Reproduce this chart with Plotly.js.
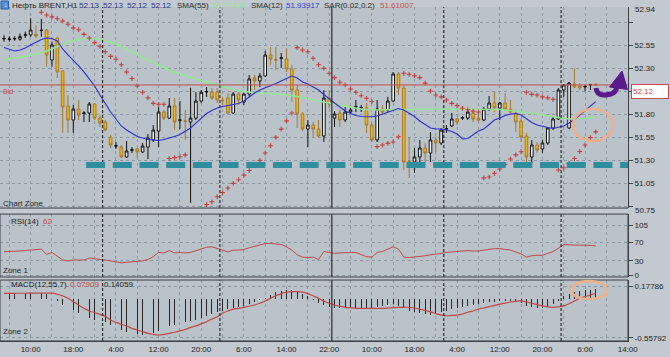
<!DOCTYPE html>
<html><head><meta charset="utf-8">
<script src="https://cdn.plot.ly/plotly-3.0.1.min.js"></script>
<style>html,body{margin:0;padding:0;background:#c2c9d0;}#chart{width:670px;height:357px;}</style>
</head><body><div id="chart"></div>
<script>
// ---- Data (BRENT H1) ----
const openP = [52.620,52.615,52.620,52.617,52.660,52.663,52.670,52.710,52.717,52.391,
52.630,52.271,51.891,51.739,51.858,51.810,51.815,51.913,51.760,51.717,
51.554,51.456,51.445,51.337,51.410,51.424,51.391,51.445,51.522,51.619,
51.826,51.760,51.891,51.735,51.730,51.717,51.760,51.945,52.043,52.043,
52.043,51.955,51.978,51.815,52.021,51.935,52.021,52.195,52.163,52.217,
52.445,52.395,52.410,52.402,52.293,52.065,51.804,51.641,51.684,51.641,
51.565,51.978,51.760,51.815,51.739,51.826,51.880,51.870,51.869,51.684,
51.522,51.858,51.848,51.945,52.239,52.087,51.290,51.282,51.337,51.435,
51.380,51.522,51.489,51.640,51.674,51.750,51.760,51.760,51.815,51.760,
51.739,51.858,51.924,51.869,51.924,51.858,51.815,51.728,51.565,51.337,
51.467,51.424,51.489,51.652,51.750,52.065,51.652,52.130,52.108,52.098,
52.120,52.130];
const highP = [52.660,52.650,52.650,52.680,52.700,52.844,52.770,52.837,52.728,52.590,
52.640,52.280,52.010,51.902,51.956,51.837,51.935,51.920,51.793,51.739,
51.576,51.500,51.467,51.511,51.445,51.435,51.489,51.587,51.684,51.880,
51.848,51.978,51.978,51.945,51.848,52.090,52.043,52.065,52.098,52.087,
52.087,51.990,52.030,52.043,52.043,52.030,52.228,52.228,52.250,52.489,
52.532,52.532,52.467,52.520,52.337,52.120,51.826,51.739,51.717,51.739,
52.065,52.065,51.837,51.848,51.880,51.880,51.956,51.902,51.924,51.706,
51.956,51.902,51.990,52.260,52.260,52.120,51.554,51.435,51.522,51.489,
51.608,51.554,51.652,51.684,51.815,51.760,51.782,51.848,51.837,51.826,
51.880,52.000,52.043,51.935,52.030,51.956,51.848,51.760,51.598,51.522,
51.500,51.522,51.663,51.771,52.087,52.130,52.152,52.304,52.141,52.120,
52.130,52.130];
const lowP = [52.590,52.590,52.600,52.600,52.630,52.644,52.630,52.644,52.318,52.318,
52.195,51.598,51.598,51.598,51.739,51.717,51.717,51.739,51.663,51.619,
51.435,51.424,51.326,51.326,51.380,51.326,51.380,51.315,51.500,51.445,
51.739,51.750,51.630,51.641,51.522,50.840,51.739,51.924,51.990,51.956,
51.924,51.902,51.800,51.804,51.902,51.902,51.990,52.065,52.098,52.206,
52.337,52.282,52.304,52.260,51.935,51.652,51.619,51.445,51.554,51.543,
51.500,51.869,51.663,51.663,51.717,51.815,51.826,51.826,51.598,51.500,
51.500,51.793,51.826,51.935,52.010,51.195,51.108,51.163,51.282,51.282,
51.282,51.391,51.467,51.598,51.663,51.684,51.739,51.739,51.717,51.717,
51.728,51.837,51.826,51.739,51.837,51.815,51.608,51.500,51.217,51.271,
51.380,51.380,51.467,51.630,51.739,51.990,51.641,52.087,52.065,52.054,
52.065,52.120];
const closeP = [52.625,52.620,52.625,52.645,52.665,52.717,52.652,52.715,52.445,52.554,
52.260,51.880,51.739,51.858,51.793,51.815,51.913,51.760,51.706,51.630,
51.467,51.460,51.337,51.402,51.415,51.391,51.456,51.543,51.630,51.826,
51.760,51.891,51.717,51.740,51.725,51.760,51.945,52.040,52.048,51.978,
51.956,51.950,51.815,52.021,51.956,52.021,52.185,52.163,52.217,52.445,
52.402,52.390,52.415,52.293,52.065,51.804,51.641,51.684,51.641,51.565,
51.978,51.913,51.804,51.739,51.826,51.848,51.885,51.875,51.684,51.522,
51.858,51.826,51.945,52.239,52.087,51.282,51.285,51.337,51.435,51.380,
51.522,51.489,51.630,51.645,51.750,51.717,51.765,51.826,51.750,51.739,
51.858,51.924,51.869,51.924,51.858,51.826,51.717,51.554,51.337,51.467,
51.413,51.489,51.652,51.750,52.065,52.120,52.141,52.098,52.087,52.103,
52.125,52.120];
const sma55 = [52.400,52.405,52.410,52.418,52.428,52.440,52.455,52.470,52.489,52.511,
52.537,52.560,52.587,52.603,52.614,52.619,52.625,52.625,52.614,52.603,
52.587,52.565,52.543,52.511,52.478,52.446,52.418,52.391,52.364,52.337,
52.304,52.282,52.261,52.239,52.217,52.201,52.185,52.168,52.152,52.136,
52.120,52.103,52.087,52.071,52.060,52.049,52.043,52.038,52.032,52.029,
52.027,52.022,52.016,52.011,52.005,51.994,51.984,51.967,51.956,51.945,
51.934,51.924,51.907,51.897,51.886,51.875,51.864,51.858,51.853,51.848,
51.848,51.851,51.853,51.855,51.855,51.855,51.855,51.855,51.858,51.858,
51.858,51.858,51.858,51.858,51.858,51.858,51.858,51.858,51.858,51.858,
51.858,51.858,51.858,51.853,51.848,51.842,51.837,51.831,51.826,51.815,
51.804,51.793,51.782,51.772,51.764,51.757,51.750,51.750,51.752,51.755,
51.765,51.774];
const sma12 = [52.527,52.505,52.489,52.500,52.522,52.554,52.587,52.614,52.630,52.625,
52.598,52.511,52.446,52.380,52.326,52.261,52.185,52.109,52.011,51.913,
51.826,51.750,51.674,51.630,51.592,51.560,51.543,51.527,51.522,51.516,
51.527,51.540,51.560,51.581,51.620,51.652,51.706,51.761,51.810,51.842,
51.869,51.886,51.897,51.902,51.918,51.945,51.989,52.032,52.065,52.087,
52.109,52.136,52.163,52.190,52.217,52.196,52.152,52.130,52.098,52.065,
52.016,51.967,51.924,51.880,51.837,51.810,51.788,51.777,51.772,51.775,
51.782,51.804,51.826,51.848,51.864,51.848,51.815,51.777,51.728,51.690,
51.652,51.641,51.641,51.630,51.614,51.587,51.533,51.538,51.581,51.620,
51.641,51.695,51.739,51.761,51.788,51.804,51.810,51.793,51.750,51.712,
51.685,51.668,51.657,51.647,51.657,51.674,51.706,51.744,51.793,51.842,
51.891,51.939];
const sar = [null,null,null,null,null,null,null,52.910,52.880,52.860,
52.840,52.815,52.780,52.740,52.720,52.670,52.630,52.580,52.540,52.480,
52.430,52.400,52.340,52.260,52.190,52.110,52.040,51.980,51.920,51.910,
51.910,51.320,51.330,51.340,51.360,null,null,null,50.820,50.850,
50.905,50.950,51.000,51.050,51.090,51.140,51.190,51.250,51.300,51.380,
51.460,51.550,51.640,51.730,51.815,52.525,52.500,52.480,52.410,52.340,
52.300,52.247,52.200,52.150,52.120,52.076,52.040,52.003,51.975,51.940,
51.450,51.467,51.485,51.500,51.557,52.247,52.236,52.220,52.200,52.140,
52.054,52.010,51.990,51.956,51.920,51.895,51.866,51.850,51.835,51.826,
51.110,51.120,51.160,51.207,51.257,51.315,51.360,51.394,52.040,52.018,
52.010,51.990,51.980,51.964,51.196,51.220,51.270,51.320,51.396,51.467,
51.547,51.610];
const rsi = [49.5,49.5,50,51,52,53,55,55,44,48,
40,32,30,32,32,32,36,34,33,32,
30,27,26,27,28,28,30,33,39,48,
47,52,47,48,47,48,52,56,59,60,
57,53,49,53,53,54,58,61,64,67,
67,66,65,60,53,43,38,37,38,33,
50,48,46,47,48,48,48,44,39,38,
48,50,55,60,55,38,37,38,39,41,
43,44,46,48,49,50,51,52,51,51,
53,55,56,56,55,53,49,45,38,41,
42,42,46,50,57,65,64,64,63,63,
63,62];
const macdHist = [0.070,0.070,0.072,0.075,0.078,0.080,0.082,0.085,0.060,0.030,
-0.040,-0.090,-0.125,-0.160,-0.210,-0.235,-0.270,-0.300,-0.320,-0.340,
-0.377,-0.415,-0.448,-0.470,-0.495,-0.509,-0.519,-0.509,-0.495,-0.460,
-0.424,-0.390,-0.370,-0.353,-0.340,-0.320,-0.306,-0.273,-0.245,-0.225,
-0.195,-0.175,-0.150,-0.139,-0.120,-0.105,-0.080,-0.055,-0.021,0.010,
0.050,0.090,0.110,0.120,0.120,0.100,0.060,0.030,-0.020,-0.070,
-0.090,-0.116,-0.130,-0.140,-0.140,-0.138,-0.142,-0.140,-0.145,-0.140,
-0.116,-0.100,-0.090,-0.080,-0.100,-0.140,-0.180,-0.195,-0.210,-0.225,
-0.235,-0.225,-0.195,-0.175,-0.155,-0.139,-0.120,-0.105,-0.090,-0.080,
-0.068,-0.055,-0.045,-0.035,-0.035,-0.035,-0.045,-0.068,-0.100,-0.125,
-0.139,-0.130,-0.116,-0.080,-0.035,0.030,0.060,0.090,0.110,0.115,
0.120,0.141];
const macdSignal = [0.074,0.074,0.074,0.075,0.075,0.076,0.077,0.078,0.077,0.076,
0.060,0.037,0.003,-0.045,-0.092,-0.139,-0.177,-0.200,-0.225,-0.254,
-0.306,-0.340,-0.367,-0.390,-0.424,-0.448,-0.470,-0.495,-0.509,-0.519,
-0.509,-0.495,-0.480,-0.460,-0.440,-0.410,-0.390,-0.360,-0.330,-0.292,
-0.260,-0.210,-0.177,-0.150,-0.139,-0.125,-0.110,-0.092,-0.068,-0.035,
0.003,0.040,0.070,0.090,0.098,0.098,0.090,0.070,0.040,0.003,
-0.035,-0.068,-0.092,-0.110,-0.125,-0.130,-0.139,-0.139,-0.139,-0.139,
-0.139,-0.139,-0.135,-0.130,-0.125,-0.125,-0.125,-0.135,-0.153,-0.170,
-0.187,-0.215,-0.235,-0.245,-0.240,-0.235,-0.220,-0.195,-0.177,-0.150,
-0.135,-0.116,-0.097,-0.080,-0.065,-0.050,-0.040,-0.035,-0.050,-0.068,
-0.088,-0.105,-0.120,-0.125,-0.120,-0.105,-0.075,-0.035,0.003,0.027,
0.050,0.079];
const tickIdx  = [5,13,21,29,37,45,53,61,69,77,85,93,101,109,117];
const tickText = ['10:00','18:00','4:00','12:00','20:00','6:00','14:00','22:00','10:00','18:00','4:00','12:00','20:00','6:00','14:00'];
const daySep = [18.5,40.5,61.5,82.5,104.5];
const solidSep = 61.5;
const bidPrice = 52.12;
const levelPrice = 51.25;
const levelStart = 15.4;
const priceTicks = [50.80,51.05,51.30,51.55,51.80,52.05,52.30,52.55,52.80];
const priceTickText = ['','51.05','51.30','51.55','51.80','','52.30','52.55',''];

// ---- Build ----
const idx = openP.map((_, i) => i);
const PW = 628, PTOP = 7, PBOT = 341, PH = PBOT - PTOP;
const px = x => x / PW;
const py = y => (PBOT - y) / PH;
const FONT = 'Liberation Sans, Arial, sans-serif';
const XMAX = 117.05;

const traces = [
  {type:'candlestick', x:idx, open:openP, high:highP, low:lowP, close:closeP,
   xaxis:'x', yaxis:'y', whiskerwidth:0,
   increasing:{line:{color:'#111111', width:1}, fillcolor:'#f4f7f7'},
   decreasing:{line:{color:'#a8782c', width:1}, fillcolor:'#f4b80a'},
   hoverinfo:'skip'},
  {type:'scatter', mode:'lines', x:idx, y:sma55, xaxis:'x', yaxis:'y',
   line:{color:'#94e694', width:1.6}},
  {type:'scatter', mode:'lines', x:idx, y:sma12, xaxis:'x', yaxis:'y',
   line:{color:'#2d2dcf', width:1.1}},
  {type:'scatter', mode:'markers', x:idx, y:sar, xaxis:'x', yaxis:'y',
   marker:{symbol:'cross-thin', size:3.4, line:{color:'#c43e3e', width:1.1}}},
  {type:'scatter', mode:'lines', x:idx, y:rsi, xaxis:'x', yaxis:'y2',
   line:{color:'#c24848', width:1}},
  {type:'bar', x:idx, y:macdHist, xaxis:'x', yaxis:'y3', width:0.16,
   marker:{color:'#262626', line:{width:0}}},
  {type:'scatter', mode:'lines', x:idx, y:macdSignal, xaxis:'x', yaxis:'y3',
   line:{color:'#c24848', width:1.2, shape:'spline'}}
];

const gridC = '#8d97a1';
const axisFont = {family:FONT, size:8, color:'#222222'};
const yCommon = {side:'right', anchor:'x', showline:true, linecolor:'#3a4046', linewidth:1,
  ticks:'outside', ticklen:4, tickcolor:'#3a4046', tickfont:axisFont,
  showgrid:true, gridcolor:gridC, griddash:'dot', gridwidth:1, zeroline:false, fixedrange:true};

const yRanges = {y:[50.782,52.967], y2:[-4.2,129.5], y3:[-0.604,0.263]};

const shapes = [];
Object.keys(yRanges).forEach(ax => {
  daySep.forEach(d => {
    shapes.push({type:'line', xref:'x', yref:ax, x0:d, x1:d, y0:yRanges[ax][0], y1:yRanges[ax][1],
      layer:'above', line:{color:'#111111', width:1, dash: d === solidSep ? 'solid' : '3px,2px'}});
  });
});
shapes.push({type:'line', xref:'x', yref:'y', x0:-0.75, x1:XMAX, y0:bidPrice, y1:bidPrice,
  line:{color:'#c84d4d', width:1}});
shapes.push({type:'line', xref:'x', yref:'y', x0:levelStart, x1:XMAX, y0:levelPrice, y1:levelPrice,
  line:{color:'#2e8e9e', width:6, dash:'19px,7.7px'}});
shapes.push({type:'rect', xref:'paper', yref:'paper', x0:0, x1:1, y0:0.1916, y1:0.380, line:{color:'#3a4046', width:1}});
shapes.push({type:'rect', xref:'paper', yref:'paper', x0:0, x1:1, y0:0, y1:0.1826, line:{color:'#3a4046', width:1}});
shapes.push({type:'line', xref:'paper', yref:'paper', x0:0, x1:1, y0:0.398, y1:0.398, line:{color:'#3a4046', width:1}});
shapes.push({type:'circle', xref:'paper', yref:'paper', x0:px(573), x1:px(613), y0:py(141), y1:py(109),
  line:{color:'#efb08c', width:2.6}});
shapes.push({type:'circle', xref:'paper', yref:'paper', x0:px(571), x1:px(607), y0:py(299), y1:py(281),
  line:{color:'#efb08c', width:2.6}});
shapes.push({type:'path', xref:'paper', yref:'paper',
  path:'M ' + px(596) + ',' + py(88) + ' Q ' + px(597) + ',' + py(96) + ' ' + px(606) + ',' + py(95) +
       ' L ' + px(611) + ',' + py(94) + ' Q ' + px(616) + ',' + py(93) + ' ' + px(617.5) + ',' + py(85),
  line:{color:'#5a1a8c', width:5}});
shapes.push({type:'path', xref:'paper', yref:'paper',
  path:'M ' + px(622) + ',' + py(71) + ' L ' + px(609.5) + ',' + py(87) + ' L ' + px(627.5) + ',' + py(89.5) + ' Z',
  fillcolor:'#5a1a8c', line:{color:'#5a1a8c', width:1}});
shapes.push({type:'rect', xref:'paper', yref:'paper', x0:px(1), x1:px(8.5), y0:py(9), y1:py(1),
  fillcolor:'#4f8fdc', line:{color:'#2b5ca8', width:1}});

const ann = [];
function txt(x, y, t, color, size) {
  ann.push({xref:'paper', yref:'paper', x:px(x), y:py(y), text:t, showarrow:false,
    xanchor:'left', yanchor:'middle', font:{family:FONT, size:size||8, color:color}});
}
txt(2.2, 4.8, '↓', '#ffffff', 7);
const header = [[10,'Нефть BRENT,H1','#1c1c1c'],[77,'52.13','#28348f'],[101,'52.13','#28348f'],
  [125,'52.12','#28348f'],[149,'52.12','#28348f'],[175,'SMA(55)','#2a2a2a'],[210,'51.77436','#93e393'],
  [249,'SMA(12)','#2a2a2a'],[284,'51.93917','#2f3fd6'],[322,'SAR(0.02,0.2)','#2a2a2a'],[378,'51.61007','#c84a4a']];
header.forEach(h => txt(h[0], 5, h[1], h[2], 8));
txt(1, 203, 'Chart Zone', '#1e1e1e', 8);
txt(9, 221.5, 'RSI(14)', '#1e1e1e', 8);
txt(41, 221.5, '62', '#c84a4a', 8);
txt(1, 270, 'Zone 1', '#1e1e1e', 8);
txt(9, 284.5, 'MACD(12,55,7)', '#1e1e1e', 8);
txt(68, 284.5, '0.07909', '#c84a4a', 8);
txt(102, 284.5, '0.14059', '#1e1e1e', 8);
txt(1, 331, 'Zone 2', '#1e1e1e', 8);
txt(1, 91, 'Bid', '#c84a4a', 7);
txt(633, 9.5, '52.94', '#222222', 8);
txt(633, 211, '50.75', '#222222', 8);
ann.push({xref:'paper', yref:'paper', x:px(631), y:py(91), text:'52.12', showarrow:false,
  xanchor:'left', yanchor:'middle', align:'left', width:34, height:11,
  bgcolor:'#ffffff', bordercolor:'#c84a4a', borderwidth:1, borderpad:1,
  font:{family:FONT, size:8, color:'#c84a4a'}});

const minorGrid = [];
for (let g = 1; g <= 117; g += 4) minorGrid.push(g);

const layout = {
  width:670, height:357, margin:{l:0, r:42, t:PTOP, b:357-PBOT},
  paper_bgcolor:'#c2c9d0', plot_bgcolor:'#bac2ca', showlegend:false,
  xaxis:{anchor:'y3', range:[-0.75,XMAX], tickmode:'array', tickvals:tickIdx, ticktext:tickText,
    showgrid:true, gridcolor:gridC, griddash:'dot', gridwidth:1,
    minor:{tickmode:'array', tickvals:minorGrid, showgrid:true, gridcolor:gridC, griddash:'dot', gridwidth:1},
    ticks:'', tickfont:axisFont,
    showline:true, linecolor:'#3a4046', zeroline:false, rangeslider:{visible:false}, fixedrange:true},
  yaxis:Object.assign({}, yCommon, {domain:[0.398,1], range:yRanges.y,
    tickmode:'array', tickvals:priceTicks, ticktext:priceTickText}),
  yaxis2:Object.assign({}, yCommon, {domain:[0.1916,0.380], range:yRanges.y2,
    tickmode:'array', tickvals:[0,30,70,105], ticktext:['0','30','70','105']}),
  yaxis3:Object.assign({}, yCommon, {domain:[0,0.1826], range:yRanges.y3,
    tickmode:'array', tickvals:[-0.55792,0.17786], ticktext:['-0.55792','0.17786']}),
  shapes:shapes, annotations:ann, bargap:0
};

Plotly.newPlot('chart', traces, layout, {staticPlot:true, displayModeBar:false});
</script>
</body></html>
